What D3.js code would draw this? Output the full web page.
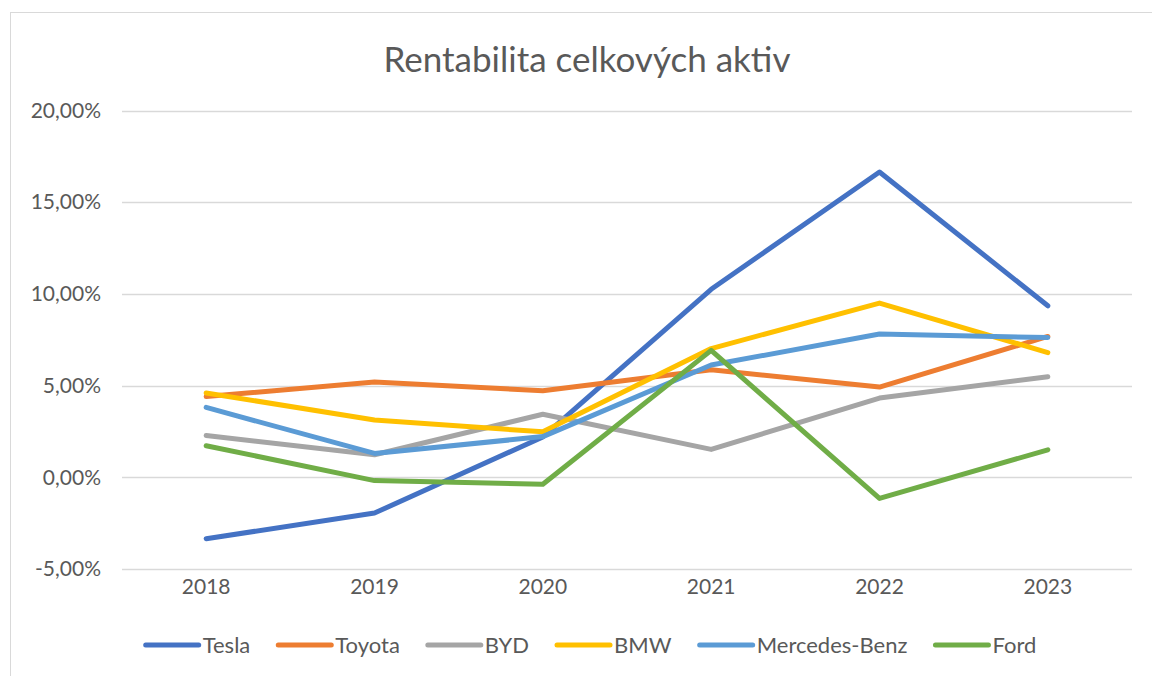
<!DOCTYPE html>
<html>
<head>
<meta charset="utf-8">
<script src="https://cdn.jsdelivr.net/npm/d3@7"></script>
<style>
  body { margin: 0; background: #fff; }
  svg text { font-family: Lato, "Open Sans", sans-serif; fill: #595959; }
</style>
</head>
<body>
<svg width="1152" height="676"></svg>
<script>
// data
var years = ["2018", "2019", "2020", "2021", "2022", "2023"];
var tesla    = [-3.35, -1.95, 2.2, 10.25, 16.65, 9.35];
var toyota   = [4.4, 5.2, 4.72, 5.86, 4.92, 7.68];
var byd      = [2.28, 1.23, 3.44, 1.52, 4.32, 5.48];
var bmw      = [4.6, 3.12, 2.48, 7.02, 9.5, 6.8];
var mercedes = [3.81, 1.3, 2.22, 6.12, 7.81, 7.62];
var ford     = [1.72, -0.18, -0.38, 6.92, -1.15, 1.5];
var yTicks = [-5, 0, 5, 10, 15, 20];

var series = [
  {name: "Tesla", values: tesla, color: "#4472C4"},
  {name: "Toyota", values: toyota, color: "#ED7D31"},
  {name: "BYD", values: byd, color: "#A5A5A5"},
  {name: "BMW", values: bmw, color: "#FFC000"},
  {name: "Mercedes-Benz", values: mercedes, color: "#5B9BD5"},
  {name: "Ford", values: ford, color: "#70AD47"}
];

var svg = d3.select("svg");

// chart frame
svg.append("rect")
    .attr("x", 10.5).attr("y", 12.5)
    .attr("width", 1200).attr("height", 700)
    .attr("fill", "none")
    .attr("stroke", "#d9d9d9");

var x = d3.scaleBand().domain(years).range([122, 1132]);
var y = d3.scaleLinear().domain([-5, 20]).range([569, 110.5]);

// gridlines
svg.append("g")
    .selectAll("line")
    .data(yTicks)
    .enter().append("line")
    .attr("x1", 122).attr("x2", 1132)
    .attr("y1", function(d) { return Math.round(y(d)) + 0.5; })
    .attr("y2", function(d) { return Math.round(y(d)) + 0.5; })
    .attr("stroke", "#d9d9d9")
    .attr("stroke-width", 1.3);

// y axis labels, comma decimals and a plain hyphen for minus
var fmt = function(d) { return d.toFixed(2).replace(".", ",") + "%"; };
var yAxis = svg.append("g")
    .attr("transform", "translate(101,0)")
    .call(d3.axisLeft(y).tickValues(yTicks).tickSize(0).tickPadding(0).tickFormat(fmt));
yAxis.select(".domain").remove();
yAxis.selectAll("text")
    .style("font-size", "21px")
    .style("font-family", "Lato, sans-serif")
    .attr("fill", "#595959");

// x axis labels
var xAxis = svg.append("g")
    .attr("transform", "translate(0,579)")
    .call(d3.axisBottom(x).tickSize(0).tickPadding(0));
xAxis.select(".domain").remove();
xAxis.selectAll("text")
    .style("font-size", "21px")
    .style("font-family", "Lato, sans-serif")
    .attr("fill", "#595959");

// lines
var line = d3.line()
    .x(function(d, i) { return x(years[i]) + x.bandwidth() / 2; })
    .y(function(d) { return y(d); });

svg.append("g")
    .selectAll("path")
    .data(series)
    .enter().append("path")
    .attr("d", function(d) { return line(d.values); })
    .attr("fill", "none")
    .attr("stroke", function(d) { return d.color; })
    .attr("stroke-width", 5)
    .attr("stroke-linejoin", "round")
    .attr("stroke-linecap", "round");

// title
svg.append("text")
    .attr("x", 587).attr("y", 72)
    .attr("text-anchor", "middle")
    .style("font-size", "35px")
    .text("Rentabilita celkových aktiv");

// legend
var legend = svg.append("g");
var items = legend.selectAll("g")
    .data(series)
    .enter().append("g");
items.append("line")
    .attr("x1", 2).attr("x2", 55)
    .attr("y1", 0).attr("y2", 0)
    .attr("stroke", function(d) { return d.color; })
    .attr("stroke-width", 5)
    .attr("stroke-linecap", "round");
items.append("text")
    .attr("x", 59).attr("y", 8)
    .style("font-size", "22px")
    .text(function(d) { return d.name; });

var pos = 0;
items.each(function() {
  var w = this.getBBox().width;
  d3.select(this).attr("transform", "translate(" + pos + ",0)");
  pos += w + 28;
});
pos -= 28;
legend.attr("transform", "translate(" + (589 - pos / 2) + ",645)");
</script>
</body>
</html>
